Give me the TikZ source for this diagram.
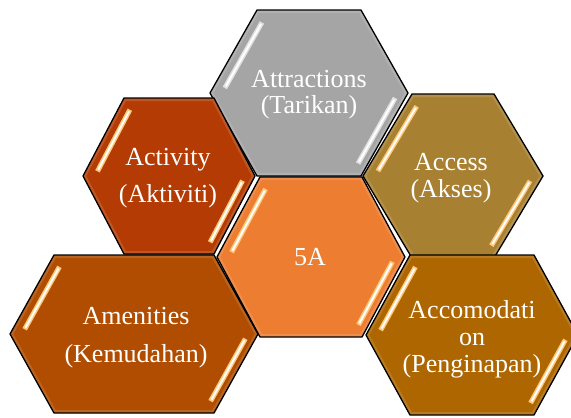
\documentclass[tikz,border=0pt]{standalone}
\usepackage{fontspec}
\setmainfont{Liberation Serif}
\usetikzlibrary{calc}
\definecolor{cGray}{RGB}{165,165,165}
\definecolor{cAct}{RGB}{180,60,4}
\definecolor{cAcc}{RGB}{168,128,50}
\definecolor{cFive}{RGB}{237,125,49}
\definecolor{cAme}{RGB}{176,77,0}
\definecolor{cAcm}{RGB}{173,102,0}
\definecolor{cGlow}{RGB}{255,200,120}
\tikzset{
  hexline/.style={draw=black, line width=1.3pt, line join=miter},
  hlout/.style={line width=5pt, draw=#1},
  hlin/.style={line width=2pt, draw=white},
  lbl/.style={text=white, font=\fontsize{26}{30}\selectfont, anchor=base, inner sep=0pt}
}
% #1 name, #2 cx, #3 cy, #4 half width, #5 top half width, #6 half height, #7 fill, #8 highlight colour
\newcommand{\hexcell}[8]{%
  \coordinate (#1) at (#2,#3);
  \begin{scope}
    \path[fill=#7] ({#2-#4},#3) -- ({#2-#5},{#3-#6}) -- ({#2+#5},{#3-#6}) -- ({#2+#4},#3) -- ({#2+#5},{#3+#6}) -- ({#2-#5},{#3+#6}) -- cycle;
    \clip ({#2-#4},#3) -- ({#2-#5},{#3-#6}) -- ({#2+#5},{#3-#6}) -- ({#2+#4},#3) -- ({#2+#5},{#3+#6}) -- ({#2-#5},{#3+#6}) -- cycle;
    \draw[line width=6pt, draw=#7!70!white, opacity=0.45] ({#2-#4},#3) -- ({#2-#5},{#3-#6}) -- ({#2+#5},{#3-#6}) -- ({#2+#4},#3) -- ({#2+#5},{#3+#6}) -- ({#2-#5},{#3+#6}) -- cycle;
    \draw[hlout=#8] ($({#2-#4},#3)!0.06!({#2-#5},{#3-#6})+(12,0)$) -- ($({#2-#4},#3)!0.85!({#2-#5},{#3-#6})+(12,0)$);
    \draw[hlin] ($({#2-#4},#3)!0.08!({#2-#5},{#3-#6})+(12,0)$) -- ($({#2-#4},#3)!0.83!({#2-#5},{#3-#6})+(12,0)$);
    \draw[hlout=#8] ($({#2+#4},#3)!0.06!({#2+#5},{#3+#6})+(-10,0)$) -- ($({#2+#4},#3)!0.85!({#2+#5},{#3+#6})+(-10,0)$);
    \draw[hlin] ($({#2+#4},#3)!0.08!({#2+#5},{#3+#6})+(-10,0)$) -- ($({#2+#4},#3)!0.83!({#2+#5},{#3+#6})+(-10,0)$);
  \end{scope}
  \draw[hexline] ({#2-#4},#3) -- ({#2-#5},{#3-#6}) -- ({#2+#5},{#3-#6}) -- ({#2+#4},#3) -- ({#2+#5},{#3+#6}) -- ({#2-#5},{#3+#6}) -- cycle;
}
\begin{document}
\begin{tikzpicture}[x=1pt, y=-1pt]
  \useasboundingbox (0,0) rectangle (571,418);
  \clip (0,0) rectangle (571,418);
  \hexcell{hAttr}{309}{93}{99}{52}{83}{cGray}{gray!25!white}
  \hexcell{hAct}{169}{176}{86}{45}{78}{cAct}{cGlow}
  \hexcell{hAcc}{453}{176}{90}{41}{82}{cAcc}{cGlow}
  \hexcell{hFive}{311}{257}{94}{51}{80}{cFive}{cGlow}
  \hexcell{hAme}{134}{334}{124}{80}{79}{cAme}{cGlow}
  \hexcell{hAcm}{472}{335}{106}{62}{80}{cAcm}{cGlow}
  \node[lbl] (tAttr1) at (309,87) {Attractions};
  \node[lbl] (tAttr2) at (309,113) {(Tarikan)};
  \node[lbl] (tAct1) at (168,165) {Activity};
  \node[lbl] (tAct2) at (168,202) {(Aktiviti)};
  \node[lbl] (tAcc1) at (451,170) {Access};
  \node[lbl] (tAcc2) at (451,197) {(Akses)};
  \node[lbl] (tFive) at (310,265) {5A};
  \node[lbl] (tAme1) at (136,324) {Amenities};
  \node[lbl] (tAme2) at (136,362) {(Kemudahan)};
  \node[lbl] (tAcm1) at (472,318) {Accomodati};
  \node[lbl] (tAcm2) at (472,345) {on};
  \node[lbl] (tAcm3) at (472,372) {(Penginapan)};
\end{tikzpicture}
\end{document}
